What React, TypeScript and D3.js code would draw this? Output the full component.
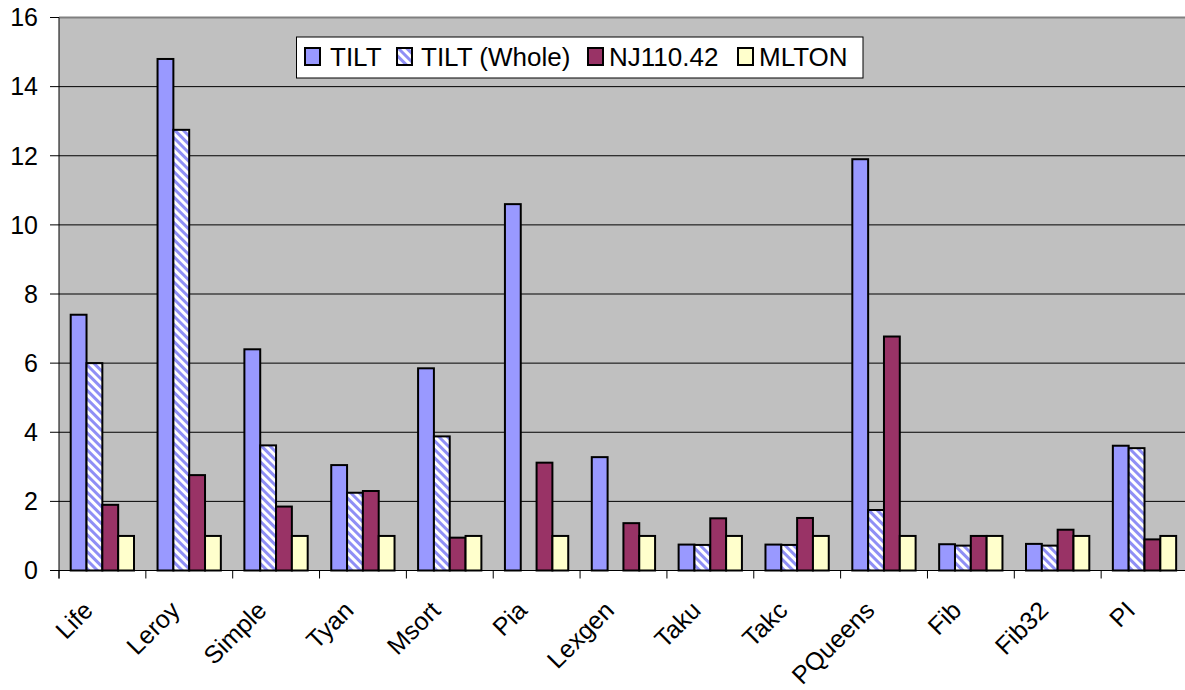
import React from 'react';
import * as d3 from 'd3';

const categories = ['Life', 'Leroy', 'Simple', 'Tyan', 'Msort', 'Pia', 'Lexgen', 'Taku', 'Takc', 'PQueens', 'Fib', 'Fib32', 'PI'];
const seriesNames = ['TILT', 'TILT (Whole)', 'NJ110.42', 'MLTON'];
const tilt = [7.4, 14.8, 6.4, 3.05, 5.85, 10.6, 3.28, 0.75, 0.75, 11.9, 0.76, 0.77, 3.61];
const tiltWhole = [6.0, 12.75, 3.62, 2.25, 3.88, 0, 0, 0.74, 0.74, 1.75, 0.72, 0.72, 3.54];
const nj = [1.9, 2.76, 1.85, 2.3, 0.95, 3.12, 1.37, 1.51, 1.52, 6.77, 1.0, 1.18, 0.9];
const mlton = [1, 1, 1, 1, 1, 1, 1, 1, 1, 1, 1, 1, 1];
const yTicks = [0, 2, 4, 6, 8, 10, 12, 14, 16];

const seriesValues = [tilt, tiltWhole, nj, mlton];
const fills = ['#9999FF', 'url(#hatch)', '#993366', '#FFFFCC'];

const width = 1185;
const height = 690;
const plot = { left: 59, right: 1188, top: 17.5, bottom: 570.5 };
const font = "'Liberation Sans', Arial, sans-serif";

const x = d3.scaleBand<string>().domain(categories).range([plot.left, plot.right]);
const xInner = d3.scaleBand<number>().domain([0, 1, 2, 3]).range([11.7, 75]);
const y = d3.scaleLinear().domain([0, 16]).range([plot.bottom, plot.top]);

// legend layout (swatch x, text x)
const legendSwatchX = [305, 397, 588, 738];
const legendTextX = [330, 421, 609, 759];

export default function App() {
  const boundaries = d3.range(categories.length + 1).map(i => plot.left + i * x.bandwidth());
  return (
    <svg width={width} height={height} style={{ position: 'absolute', left: 0, top: 0, background: '#fff' }}>
      <defs>
        <pattern id="hatch" width={6} height={6} patternUnits="userSpaceOnUse" patternTransform="rotate(-45)">
          <rect width={6} height={6} fill="#fff" />
          <rect width={3} height={6} fill="#8f8ff5" />
        </pattern>
      </defs>
      <rect x={plot.left} y={plot.top} width={plot.right - plot.left} height={plot.bottom - plot.top} fill="#C0C0C0" />
      <line x1={plot.left} x2={plot.right} y1={plot.top} y2={plot.top} stroke="#808080" strokeWidth={2} />
      {yTicks.slice(1, -1).map(t => (
        <line key={t} x1={plot.left} x2={plot.right} y1={y(t)} y2={y(t)} stroke="#000" strokeWidth={1} />
      ))}
      {categories.map((c, i) => (
        <g key={c}>
          {seriesValues.map((vals, s) => vals[i] > 0 ? (
            <rect key={s}
              x={(x(c) as number) + (xInner(s) as number)}
              y={y(vals[i])}
              width={xInner.bandwidth()}
              height={y(0) - y(vals[i])}
              fill={fills[s]} stroke="#000" strokeWidth={2} />
          ) : null)}
        </g>
      ))}
      {/* axes */}
      <line x1={plot.left} x2={plot.left} y1={plot.top} y2={plot.bottom + 8} stroke="#000" strokeWidth={1} />
      <line x1={plot.left} x2={plot.right} y1={plot.bottom} y2={plot.bottom} stroke="#000" strokeWidth={1} />
      {yTicks.map(t => (
        <g key={t}>
          <line x1={plot.left - 9} x2={plot.left} y1={y(t)} y2={y(t)} stroke="#000" />
          <text x={38} y={y(t)} dy="0.35em" textAnchor="end" fontFamily={font} fontSize={25} fill="#000">{t}</text>
        </g>
      ))}
      {boundaries.map((b, i) => (
        <line key={i} x1={b} x2={b} y1={plot.bottom} y2={plot.bottom + 8} stroke="#000" />
      ))}
      {categories.map(c => (
        <text key={c} transform={`translate(${(x(c) as number) + x.bandwidth() / 2 - 8},612) rotate(-45)`}
          textAnchor="end" fontFamily={font} fontSize={25} fill="#000">{c}</text>
      ))}
      {/* legend */}
      <rect x={296.5} y={37} width={566.5} height={41} fill="#fff" stroke="#000" strokeWidth={1} />
      {seriesNames.map((n, i) => (
        <g key={n}>
          <rect x={legendSwatchX[i]} y={48} width={15} height={17} fill={fills[i]} stroke="#000" strokeWidth={2} />
          <text x={legendTextX[i]} y={66} fontFamily={font} fontSize={26} fill="#000">{n}</text>
        </g>
      ))}
    </svg>
  );
}
